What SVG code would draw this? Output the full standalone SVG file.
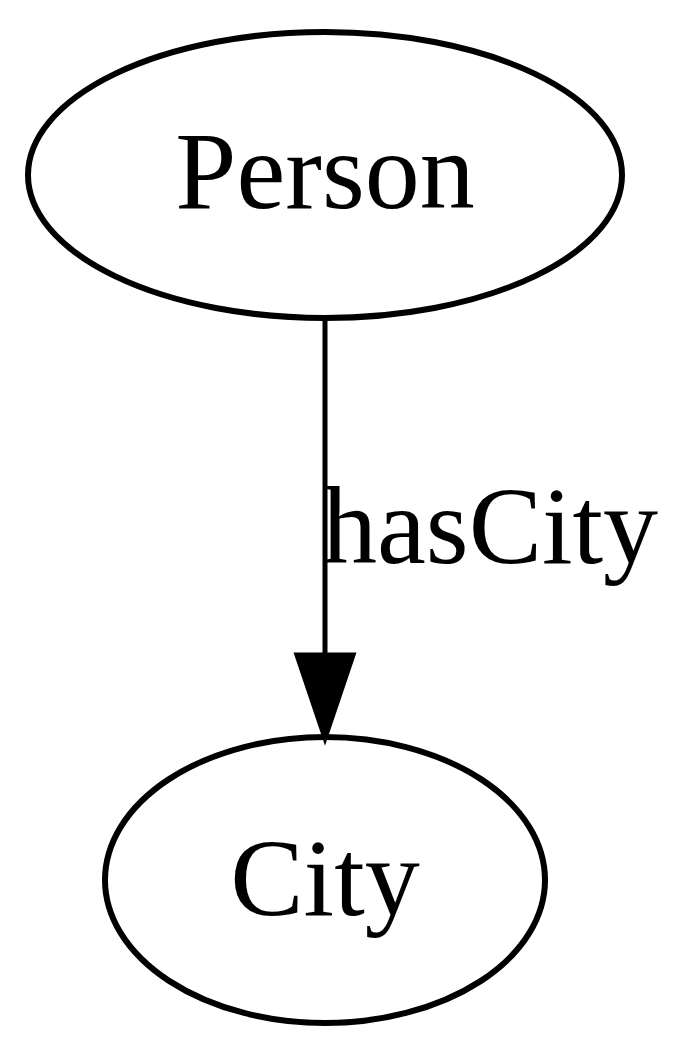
<svg xmlns="http://www.w3.org/2000/svg" width="700" height="1058" viewBox="0 0 700 1058">
<style>
.n{fill:none;stroke:#000;stroke-width:6}
.t{font-family:"Liberation Serif",serif;font-size:110px;fill:#000}
</style>
<rect width="700" height="1058" fill="#fff"/>
<g id="edges">
<line x1="325" y1="318" x2="325" y2="655" stroke="#000" stroke-width="5"/>
<path d="M297,655 L353,655 L325,738 Z" fill="#000" stroke="#000" stroke-width="5" stroke-linejoin="miter"/>
<text class="t" x="322" y="563">hasCity</text>
</g>
<g id="person">
<ellipse class="n" cx="325" cy="175" rx="297" ry="143"/>
<text class="t" x="325" y="208" text-anchor="middle">Person</text>
</g>
<g id="city">
<ellipse class="n" cx="325" cy="880" rx="220" ry="143"/>
<text class="t" x="325" y="915" text-anchor="middle">City</text>
</g>
</svg>
